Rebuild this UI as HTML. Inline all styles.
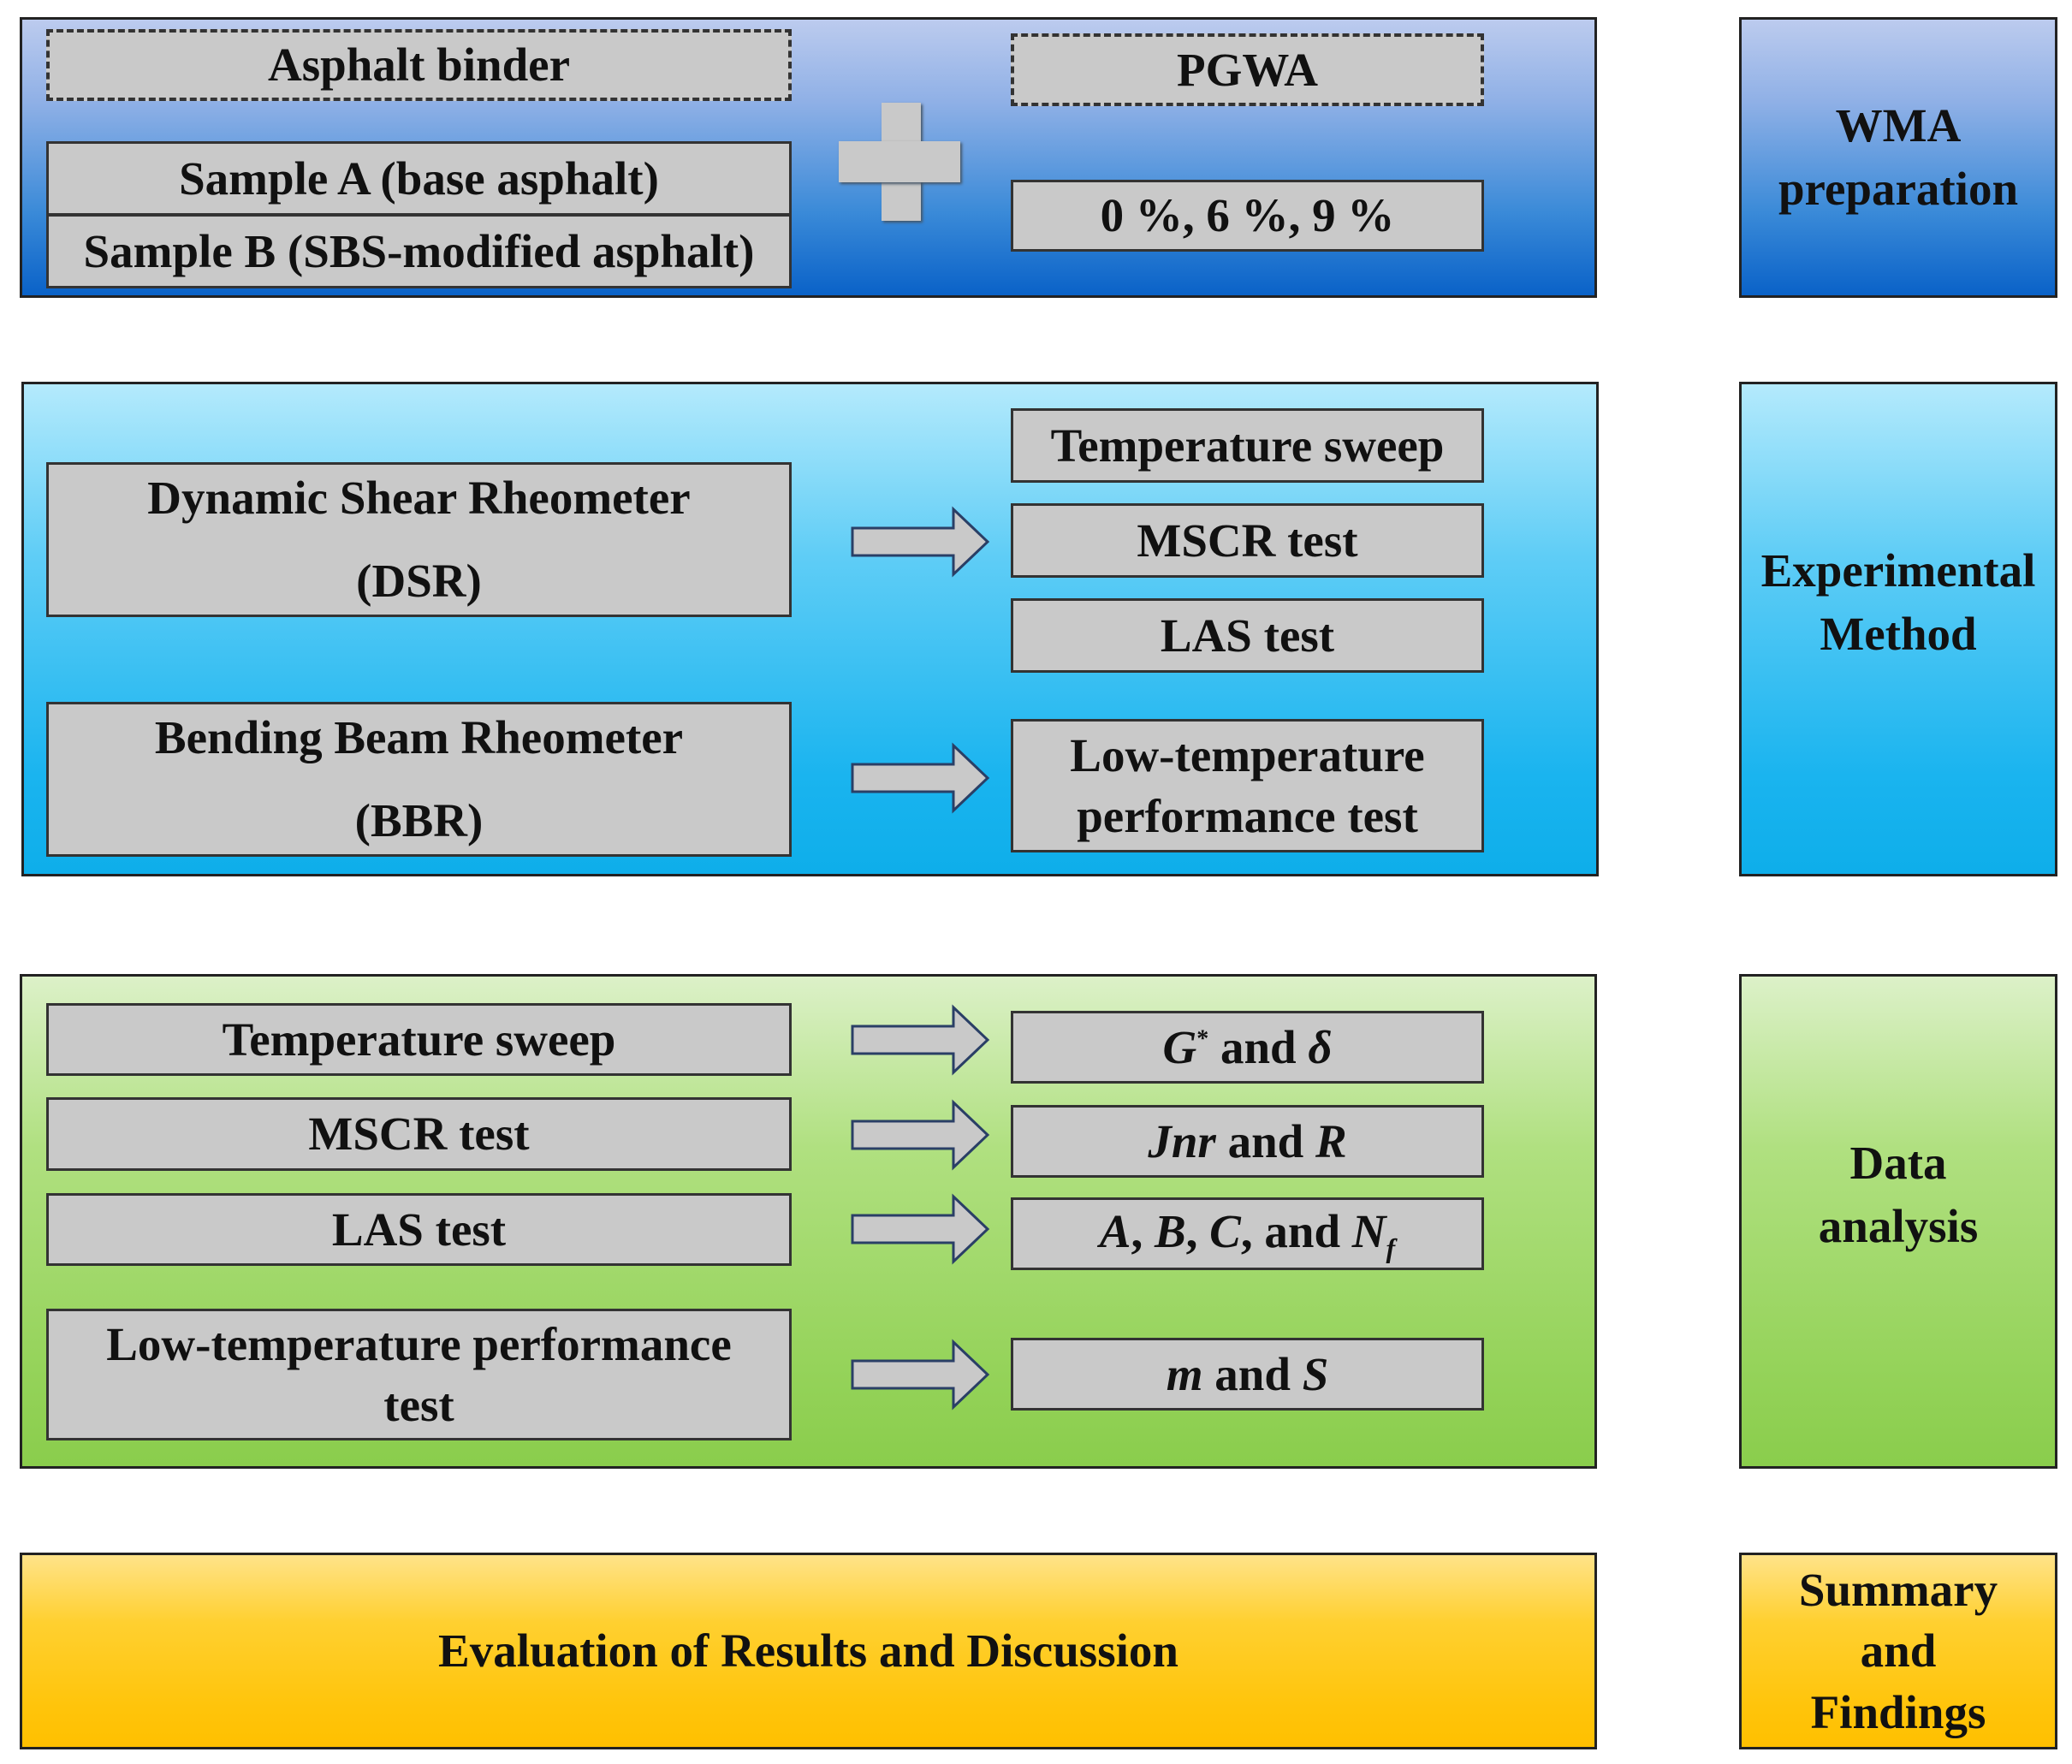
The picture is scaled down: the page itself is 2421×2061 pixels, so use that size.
<!DOCTYPE html>
<html><head><meta charset="utf-8"><style>
body{margin:0;width:2421px;height:2061px;background:#fff;position:relative;overflow:hidden;font-family:"Liberation Serif","Times New Roman",serif;font-weight:bold;color:#111}
.p{position:absolute;border:3px solid #222;box-sizing:border-box}
.b1{background:linear-gradient(#bccbee,#8fb0e6 30%,#3a8ad8 70%,#0a62c8)}
.b2{background:linear-gradient(#b4eafc,#5fcdf6 35%,#1ab4ef 80%,#0eaeea)}
.b3{background:linear-gradient(#dcf1c8,#b0e080 35%,#95d35a 80%,#8acd4c)}
.b4{background:linear-gradient(#ffe389,#ffd030 35%,#ffc40a 80%,#ffc000)}
.g{position:absolute;background:#c9c9c9;border:3px solid #333;box-sizing:border-box;display:flex;align-items:center;justify-content:center;text-align:center;font-size:55px;line-height:1.3}
.d{border:4px dashed #333}
.r{display:flex;align-items:center;justify-content:center;text-align:center;font-size:55px;line-height:1.35}
i{font-style:italic}
svg{position:absolute;left:0;top:0}
</style></head><body>
<div class="p b1" style="left:23px;top:20px;width:1843px;height:328px"></div>
<div class="p b1 r" style="left:2032px;top:20px;width:372px;height:328px">WMA<br>preparation</div>
<div class="p b2" style="left:25px;top:446px;width:1843px;height:578px"></div>
<div class="p b2 r" style="left:2032px;top:446px;width:372px;height:578px;padding-bottom:62px">Experimental<br>Method</div>
<div class="p b3" style="left:23px;top:1138px;width:1843px;height:578px"></div>
<div class="p b3 r" style="left:2032px;top:1138px;width:372px;height:578px;padding-bottom:62px">Data<br>analysis</div>
<div class="p b4 r" style="left:23px;top:1814px;width:1843px;height:230px">Evaluation of Results and Discussion</div>
<div class="p b4 r" style="left:2032px;top:1814px;width:372px;height:230px;line-height:1.3">Summary<br>and<br>Findings</div>

<div class="g d" style="left:54px;top:34px;width:871px;height:84px">Asphalt binder</div>
<div class="g" style="left:54px;top:165px;width:871px;height:87px">Sample A (base asphalt)</div>
<div class="g" style="left:54px;top:250px;width:871px;height:87px">Sample B (SBS-modified asphalt)</div>
<div class="g d" style="left:1181px;top:39px;width:553px;height:85px">PGWA</div>
<div class="g" style="left:1181px;top:210px;width:553px;height:84px">0 %, 6 %, 9 %</div>
<div style="position:absolute;left:1030px;top:120px;width:46px;height:138px;background:#c9c9c9;box-shadow:2px 2px 3px #456"></div>
<div style="position:absolute;left:980px;top:165px;width:142px;height:48px;background:#c9c9c9;box-shadow:2px 2px 3px #456"></div>

<div class="g" style="left:54px;top:540px;width:871px;height:181px;line-height:1.75">Dynamic Shear Rheometer<br>(DSR)</div>
<div class="g" style="left:54px;top:820px;width:871px;height:181px;line-height:1.75">Bending Beam Rheometer<br>(BBR)</div>
<div class="g" style="left:1181px;top:477px;width:553px;height:87px">Temperature sweep</div>
<div class="g" style="left:1181px;top:588px;width:553px;height:87px">MSCR test</div>
<div class="g" style="left:1181px;top:699px;width:553px;height:87px">LAS test</div>
<div class="g" style="left:1181px;top:840px;width:553px;height:156px">Low-temperature<br>performance test</div>

<div class="g" style="left:54px;top:1172px;width:871px;height:85px">Temperature sweep</div>
<div class="g" style="left:54px;top:1282px;width:871px;height:86px">MSCR test</div>
<div class="g" style="left:54px;top:1394px;width:871px;height:85px">LAS test</div>
<div class="g" style="left:54px;top:1529px;width:871px;height:154px">Low-temperature performance<br>test</div>
<div class="g" style="left:1181px;top:1181px;width:553px;height:85px"><span><i>G</i><sup style="font-size:28px">*</sup> and <i>δ</i></span></div>
<div class="g" style="left:1181px;top:1291px;width:553px;height:85px"><span><i>Jnr</i> and <i>R</i></span></div>
<div class="g" style="left:1181px;top:1399px;width:553px;height:85px"><span><i>A</i>, <i>B</i>, <i>C</i>, and <i>N<sub style="font-size:32px">f</sub></i></span></div>
<div class="g" style="left:1181px;top:1563px;width:553px;height:85px"><span><i>m</i> and <i>S</i></span></div>

<svg width="2421" height="2061">
<defs><g id="a"><path d="M0,-16 H118 V-38 L158,0 L118,38 V16 H0 Z" fill="#c9c9c9" stroke="#2a3f66" stroke-width="3"/></g></defs>
<use href="#a" x="996" y="633"/>
<use href="#a" x="996" y="909"/>
<use href="#a" x="996" y="1215"/>
<use href="#a" x="996" y="1326"/>
<use href="#a" x="996" y="1436"/>
<use href="#a" x="996" y="1606"/>
</svg>
</body></html>
